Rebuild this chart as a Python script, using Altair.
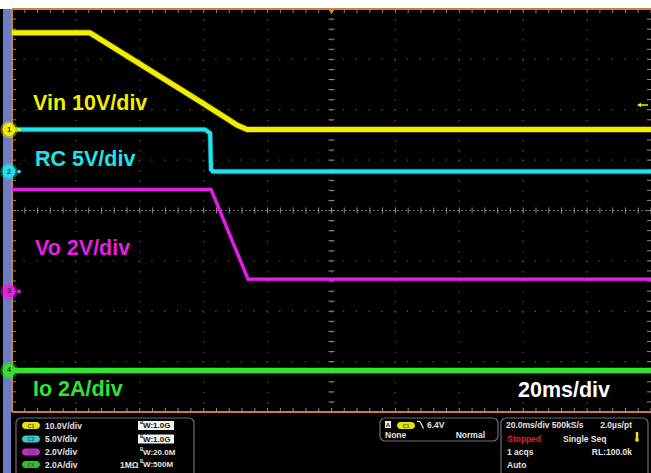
import altair as alt
import numpy as np
import pandas as pd

# Time base: 20 ms/div over 10 divisions; 8 vertical divisions
TIME_SPAN = [0, 200]
DIV_SPAN = [-4, 4]

# Channel 1 - Vin (V)
vin_ms = [0, 24.4, 58.8, 66.7, 70.7, 73.6, 200]
vin_v = [19.2, 19.2, 5.6, 2.4, 0.8, 0.0, 0.0]
# Channel 2 - RC (V)
rc_ms = [0, 60.4, 62.0, 62.3, 62.9, 200]
rc_v = [4.17, 4.17, 3.8, 0.2, 0.0, 0.0]
# Channel 3 - Vo (V)
vo_ms = [0, 62.3, 73.9, 200]
vo_v = [4.05, 4.05, 0.48, 0.48]
# Channel 4 - Io (A)
io_ms = [0, 200]
io_a = [0.0, 0.0]

# Per-channel vertical scale (units/div) and ground position (div)
ch_scale = [10.0, 5.0, 2.0, 2.0]
ch_offset = [1.607, 0.774, -1.607, -3.175]
ch_labels = ["Vin 10V/div", "RC 5V/div", "Vo 2V/div", "Io 2A/div"]
ch_colors = ["#f2ee00", "#1fe3ee", "#e61fe6", "#2fe62f"]
ch_badge = ["#e6e200", "#35c9cf", "#c62ac6", "#2fbf2f"]
ch_setting = ["10.0V/div", "5.0V/div", "2.0V/div", "2.0A/div"]

W, H = 639, 403
FONT = "Liberation Sans"
PANEL_TXT = "#e4e4e4"

X = alt.X("t:Q", scale=alt.Scale(domain=TIME_SPAN, nice=False, zero=False), axis=None)
Y = alt.Y("d:Q", scale=alt.Scale(domain=DIV_SPAN, nice=False, zero=False), axis=None)

one = pd.DataFrame({"k": [0]})


def rect(x1, y1, x2, y2, **kw):
    return alt.Chart(one).mark_rect(**kw).encode(
        x=alt.value(x1), x2=alt.value(x2), y=alt.value(y1), y2=alt.value(y2))


def seg(x1, y1, x2, y2, **kw):
    return alt.Chart(one).mark_rule(**kw).encode(
        x=alt.value(x1), x2=alt.value(x2), y=alt.value(y1), y2=alt.value(y2))


def txt(s, x, y, **kw):
    style = dict(font=FONT, fontWeight="bold", baseline="middle", align="left",
                 fontSize=8.5, color=PANEL_TXT)
    style.update(kw)
    return alt.Chart(one).mark_text(text=s, **style).encode(x=alt.value(x), y=alt.value(y))


def trace_df(ms, vals, idx):
    return pd.DataFrame({"t": ms, "d": [ch_offset[idx] + v / ch_scale[idx] for v in vals]})


layers = []

# Frame: white strip on top, blue side bar
layers.append(rect(-12, -9, W, 0, fill="#ffffff"))
layers.append(rect(-9, 0, -1, 470, fill="#6b7cc2"))

# Graticule
major_t = pd.DataFrame({"t": np.arange(20, 200, 20)})
major_d = pd.DataFrame({"d": [-3, -2, -1, 1, 2, 3]})
minor_t = pd.DataFrame({"t": np.arange(0, 200.01, 4)})
minor_d = pd.DataFrame({"d": np.arange(-4, 4.01, 0.2)})

layers.append(alt.Chart(major_t).mark_rule(color="#4e4e4e", strokeDash=[1.3, 8.78], strokeWidth=1.3).encode(x=X))
layers.append(alt.Chart(major_d).mark_rule(color="#4e4e4e", strokeDash=[1.3, 11.48], strokeWidth=1.3).encode(y=Y))
layers.append(alt.Chart(pd.DataFrame({"d": [0]})).mark_rule(color="#666666", strokeDash=[2, 2], strokeWidth=1).encode(y=Y))
layers.append(alt.Chart(pd.DataFrame({"t": [100]})).mark_rule(color="#4e4e4e", strokeDash=[1.3, 8.78], strokeWidth=1.3).encode(x=X))

tick_col = "#8c8c8c"
layers.append(alt.Chart(minor_t).mark_rule(color=tick_col).encode(x=X, y=alt.value(H / 2 - 3), y2=alt.value(H / 2 + 3)))
layers.append(alt.Chart(minor_d).mark_rule(color=tick_col).encode(y=Y, x=alt.value(W / 2 - 3), x2=alt.value(W / 2 + 3)))
layers.append(alt.Chart(minor_t).mark_rule(color=tick_col).encode(x=X, y=alt.value(0), y2=alt.value(4)))
layers.append(alt.Chart(minor_t).mark_rule(color=tick_col).encode(x=X, y=alt.value(H - 4), y2=alt.value(H)))
layers.append(alt.Chart(minor_d).mark_rule(color=tick_col).encode(y=Y, x=alt.value(0), x2=alt.value(4)))
layers.append(alt.Chart(minor_d).mark_rule(color=tick_col).encode(y=Y, x=alt.value(W - 4), x2=alt.value(W)))

border = "#c9842e"
layers.append(seg(0, 0, W, 0, color=border, strokeWidth=2))
layers.append(seg(0, H, W, H, color=border, strokeWidth=2))
layers.append(seg(0, 0, 0, H, color=border, strokeWidth=2))

# Waveforms
traces = [
    (trace_df(vin_ms, vin_v, 0), 0, 5.0),
    (trace_df(rc_ms, rc_v, 1), 1, 4.0),
    (trace_df(vo_ms, vo_v, 2), 2, 3.0),
    (trace_df(io_ms, io_a, 3), 3, 5.0),
]
for df, i, w in traces:
    layers.append(alt.Chart(df).mark_line(color=ch_colors[i], strokeWidth=w + 1.5, opacity=0.35,
                                          strokeJoin="round").encode(x=X, y=Y))
    layers.append(alt.Chart(df).mark_line(color=ch_colors[i], strokeWidth=w,
                                          strokeJoin="round").encode(x=X, y=Y))

# Channel captions
big = dict(fontSize=21.5, baseline="alphabetic")
layers.append(txt(ch_labels[0], 21, 101, color=ch_colors[0], **big))
layers.append(txt(ch_labels[1], 23, 157, color=ch_colors[1], **big))
layers.append(txt(ch_labels[2], 23, 246, color=ch_colors[2], **big))
layers.append(txt(ch_labels[3], 21, 387, color=ch_colors[3], **big))
layers.append(txt("20ms/div", 506, 388, color="#ffffff", **big))

# Ground markers at the left edge
markers = pd.DataFrame({"d": ch_offset, "n": ["1", "2", "3", "4"], "c": ch_colors})
layers.append(alt.Chart(markers).mark_point(filled=True, shape="circle", size=300, opacity=0.4)
              .encode(x=alt.value(-3), y=Y, color=alt.Color("c:N", scale=None)))
layers.append(alt.Chart(markers).mark_point(filled=True, shape="circle", size=165, opacity=1)
              .encode(x=alt.value(-3), y=Y, color=alt.Color("c:N", scale=None)))
layers.append(alt.Chart(markers).mark_point(filled=True, shape="circle", size=14, opacity=1)
              .encode(x=alt.value(7), y=Y, color=alt.Color("c:N", scale=None)))
layers.append(alt.Chart(markers).mark_text(font=FONT, fontSize=7.5, fontWeight="bold", color="#3a3a10")
              .encode(x=alt.value(-3), y=Y, text="n:N"))

# Trigger position and level indicators
layers.append(alt.Chart(one).mark_point(shape="triangle-down", filled=True, size=30, color="#e0901c", opacity=1)
              .encode(x=alt.value(W / 2), y=alt.value(3)))
layers.append(seg(627, 96, 636, 96, color=ch_colors[0], strokeWidth=1.5))
layers.append(alt.Chart(one).mark_point(shape="triangle-left", filled=True, size=22, color=ch_colors[0], opacity=1)
              .encode(x=alt.value(627), y=alt.value(96)))

# Readout panel
box = dict(fill="#000000", stroke="#6e6e6e", strokeWidth=1.2, cornerRadius=5)
layers.append(rect(4, 409, 182, 478, **box))
layers.append(rect(368, 409, 486, 432, **box))
layers.append(rect(489, 409, 636, 478, **box))

rows = [416.5, 430, 443, 455.5]
for i, ry in enumerate(rows):
    layers.append(rect(10, ry - 3.5, 28, ry + 3.5, fill=ch_badge[i], cornerRadius=3.5))
    layers.append(txt("C" + str(i + 1), 19, ry, fontSize=5, align="center", color="#505050"))
    layers.append(txt(ch_setting[i], 33, ry))

bw = ["1.0G", "1.0G", "20.0M", "500M"]
for i, ry in enumerate(rows):
    col = PANEL_TXT
    if i < 2:
        layers.append(rect(126, ry - 4.5, 162, ry + 4.5, fill="#f4f4f4"))
        col = "#111111"
    layers.append(txt("B", 128, ry - 2.5, fontSize=4.5, color=col))
    layers.append(txt("W:" + bw[i], 131, ry + 0.5, fontSize=8, color=col))
layers.append(txt("1MΩ", 108, rows[3]))

layers.append(rect(373, 412, 379, 419, fill="#e8e8e8"))
layers.append(txt("A", 376, 415.5, fontSize=6, align="center", color="#222222"))
layers.append(rect(385, 413, 403, 420, fill=ch_badge[0], cornerRadius=3.5))
layers.append(txt("C1", 394, 416.5, fontSize=5, align="center", color="#505050"))
layers.append(seg(405, 412.5, 408, 412.5, color=PANEL_TXT, strokeWidth=1.2))
layers.append(seg(408, 412.5, 411.5, 419.5, color=PANEL_TXT, strokeWidth=1.2))
layers.append(txt("6.4V", 415, 416))
layers.append(txt("None", 373, 426))
layers.append(txt("Normal", 473, 426, align="right"))

layers.append(txt("20.0ms/div 500kS/s", 494, 416))
layers.append(txt("2.0µs/pt", 620, 416, align="right"))
layers.append(txt("Stopped", 495, 430, color="#e52020"))
layers.append(txt("Single Seq", 551, 430))
layers.append(seg(625, 423, 625, 430, color="#f0e000", strokeWidth=2.5))
layers.append(alt.Chart(one).mark_point(shape="circle", filled=True, size=14, color="#f0e000", opacity=1)
              .encode(x=alt.value(625), y=alt.value(431)))
layers.append(txt("1 acqs", 495, 443))
layers.append(txt("RL:100.0k", 620, 443, align="right"))
layers.append(txt("Auto", 495, 456))

chart = alt.layer(*layers).properties(
    width=W,
    height=H,
    background="#000000",
    padding={"left": 12, "top": 9, "right": 0, "bottom": 61},
    autosize=alt.AutoSizeParams(type="none"),
).configure_view(stroke=None, fill="#000000")

chart.save("out.html", embed_options={"renderer": "svg", "actions": False})
